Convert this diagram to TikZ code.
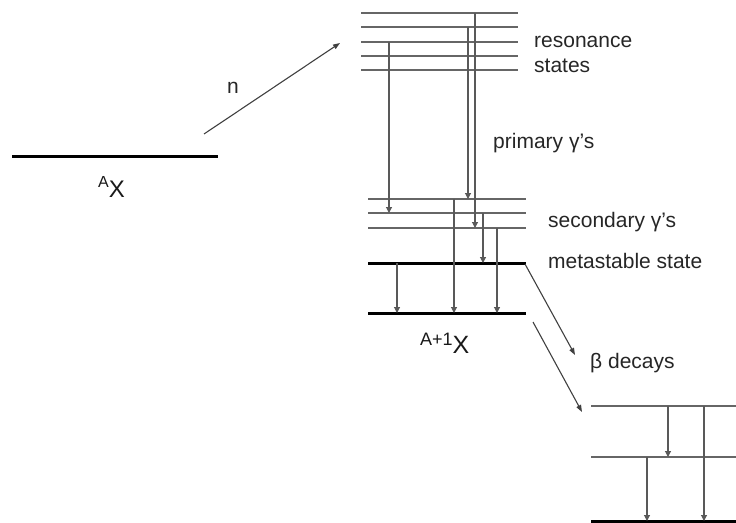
\documentclass[tikz,border=0pt]{standalone}
\usepackage{fontspec}
\setmainfont{Liberation Sans}
\usetikzlibrary{arrows.meta}
\begin{document}
\begin{tikzpicture}[x=1pt,y=-1pt,
  lvl/.style={draw=black!60, line width=1.2pt},
  gnd/.style={draw=black, line width=3pt},
  tr/.style={draw=black!65, line width=1.1pt, -{Triangle[length=6pt,width=6pt]}},
  arr/.style={draw=black!75, line width=1.1pt, -{Triangle[length=7pt,width=5pt]}},
  lab/.style={anchor=base west, inner sep=0pt, font=\fontsize{21}{25}\selectfont, text=black!85}]
\useasboundingbox (0,0) rectangle (736,522);
% initial nucleus
\draw[gnd] (12,156) -- (218,156);
\node[anchor=base west, inner sep=0pt, text=black!90] (ax) at (98,197) {\raisebox{10pt}{\fontsize{16}{19}\selectfont A}\fontsize{24}{28}\selectfont X};
% neutron
\coordinate (n0) at (204,134);
\coordinate (n1) at (340,43);
\draw[arr] (n0) -- (n1);
\node[lab] (nl) at (227,93) {n};
% resonance states
\foreach \y/\i in {13/1,27/2,42/3,56/4,70/5}{
  \draw[lvl] (361,\y) -- (518,\y);
  \coordinate (r\i) at (0,\y);
}
% secondary levels
\foreach \y/\i in {199/1,213/2,228/3}{
  \draw[lvl] (368,\y) -- (526,\y);
  \coordinate (s\i) at (0,\y);
}
\draw[gnd] (368,263) -- (526,263);
\draw[gnd] (368,313) -- (526,313);
\coordinate (m) at (0,263);
\coordinate (g) at (0,313);
% primary gammas
\draw[tr] (389,42) -- (389,213);
\draw[tr] (468,27) -- (468,199);
\draw[tr] (475,13) -- (475,228);
% secondary gammas
\draw[tr] (454,199) -- (454,313);
\draw[tr] (483,213) -- (483,263);
\draw[tr] (497,228) -- (497,313);
\draw[tr] (397,263) -- (397,313);
% labels
\node[lab] (res) at (534,47) {resonance};
\node[lab] (sta) at (534,72) {states};
\node[lab] (pri) at (493,148) {primary γ’s};
\node[lab] (sec) at (548,227) {secondary γ’s};
\node[lab] (met) at (548,268) {metastable state};
\node[anchor=base west, inner sep=0pt, text=black!90] (a1x) at (420,353) {\raisebox{8pt}{\fontsize{18}{21}\selectfont A+1}\fontsize{25}{29}\selectfont X};
% beta decays
\coordinate (b0) at (525,264);
\coordinate (b1) at (575,355);
\coordinate (c0) at (533,322);
\coordinate (c1) at (582,412);
\draw[arr] (b0) -- (b1);
\draw[arr] (c0) -- (c1);
\node[lab] (bet) at (590,368) {β decays};
% daughter levels
\draw[lvl] (591,406) -- (736,406);
\draw[lvl] (591,457) -- (736,457);
\draw[gnd] (591,521) -- (736,521);
\draw[tr] (668,406) -- (668,457);
\draw[tr] (704,406) -- (704,521);
\draw[tr] (647,457) -- (647,521);
\end{tikzpicture}
\end{document}
